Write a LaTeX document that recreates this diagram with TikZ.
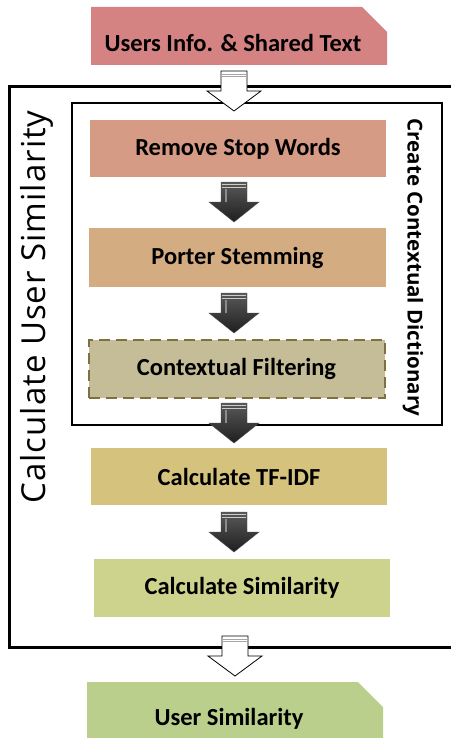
\documentclass[tikz,border=0pt]{standalone}
\usepackage{fontspec}
\setmainfont{Carlito}
\newfontfamily\sidefont{Open Sans}
\newfontfamily\sidefontw{Open Sans}[LetterSpace=3]
\usetikzlibrary{calc}
\definecolor{cTop}{RGB}{212,130,130}
\definecolor{cRsw}{RGB}{213,155,132}
\definecolor{cPs}{RGB}{212,172,130}
\definecolor{cCf}{RGB}{196,189,152}
\definecolor{cCfB}{RGB}{128,112,64}
\definecolor{cTf}{RGB}{213,194,125}
\definecolor{cCs}{RGB}{205,210,141}
\definecolor{cUs}{RGB}{185,207,139}
\tikzset{
  stepbox/.style={minimum width=296pt, minimum height=58pt, inner sep=0pt, font=\fontsize{24.5}{28}\selectfont\bfseries},
  boxtext/.style={inner sep=0pt, font=\fontsize{24.5}{28}\selectfont\bfseries},
  frame/.style={draw=black, line width=3pt},
  innerframe/.style={draw=black, line width=2pt},
  darrow/.pic={
    \shade[top color=black!65, bottom color=black!88, draw=black!70, line width=0.4pt]
      (-13,-20) -- (13,-20) -- (13,0) -- (25,0) -- (0,20) -- (-25,0) -- (-13,0) -- cycle;
    \draw[white!80!black, line width=0.8pt] (-12,-17.5) -- (12,-17.5) (-12,-15) -- (12,-15);
    \draw[black!45, line width=1.5pt] (-8,-13) -- (-8,0);
  },
  warrow/.pic={
    \filldraw[fill=white, draw=black, line width=0.8pt]
      (-13,-20) -- (13,-20) -- (13,0) -- (27,0) -- (0,20) -- (-27,0) -- (-13,0) -- cycle;
    \draw[black!35, line width=0.8pt] (-12,-17) -- (12,-17) (-12,-14.5) -- (12,-14.5);
  }
}
\begin{document}
\begin{tikzpicture}[x=1pt, y=-1pt]
\useasboundingbox (0,0) rectangle (450,738);
% outer frame
\draw[frame] (452,87) -- (9,87) -- (9,647) -- (452,647);
% inner frame
\draw[innerframe] (72,103) rectangle (442,425);
% top box with cut corner
\fill[cTop] (91,7) -- (362,7) -- (387,32) -- (387,65) -- (91,65) -- cycle;
\node[boxtext] (top) at (233,43) {Users Info. \& Shared Text};
% steps
\node[stepbox, fill=cRsw, minimum height=57pt] (rsw) at (238,148.5) {Remove Stop Words};
\node[stepbox, fill=cPs, minimum height=59pt, minimum width=297pt] (ps) at (237.5,257.5) {Porter Stemming};
\node[stepbox, fill=cCf, draw=cCfB, line width=2pt, dash pattern=on 11pt off 6pt, minimum height=58pt, minimum width=296pt] (cf) at (236.5,368.5) {Contextual Filtering};
\node[stepbox, fill=cTf, minimum height=57pt] (tf) at (239,476.5) {Calculate TF-IDF};
\node[stepbox, fill=cCs] (cs) at (242,588) {Calculate Similarity};
% bottom box with cut corner
\fill[cUs] (87,682) -- (358,682) -- (383,707) -- (383,740) -- (87,740) -- cycle;
\node[boxtext] (us) at (229,719) {User Similarity};
% side labels
\node[rotate=90, inner sep=0pt, font=\sidefontw\fontsize{33}{36}\selectfont] (calc) at (37,307) {Calculate User Similarity};
\node[rotate=-90, inner sep=0pt, font=\sidefont\fontsize{20.5}{24}\selectfont\bfseries] (ccd) at (413,267.5) {Create Contextual Dictionary};
% arrows
\pic at (234,91) {warrow};
\pic at (234,202) {darrow};
\pic at (234,313) {darrow};
\pic at (234,423) {darrow};
\pic at (234,532) {darrow};
\pic at (235,656) {warrow};
\end{tikzpicture}
\end{document}
